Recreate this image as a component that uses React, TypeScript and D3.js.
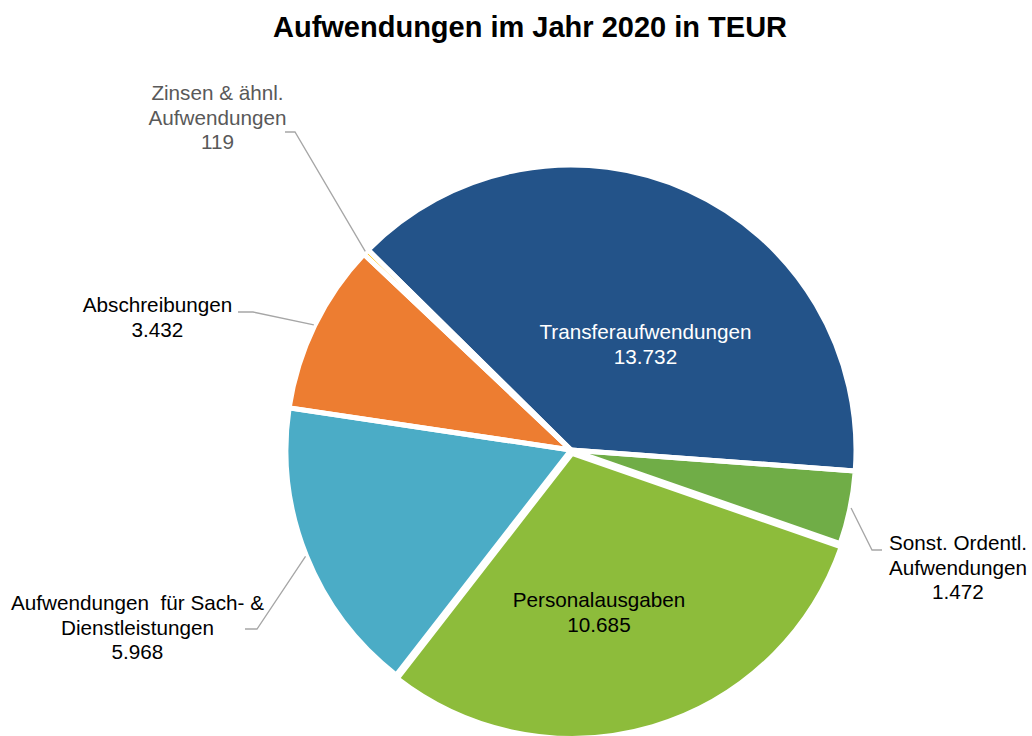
import React from "react";
import * as d3 from "d3";

// ---- data ----
const categories = [
  "Transferaufwendungen",
  "Sonst. Ordentl. Aufwendungen",
  "Personalausgaben",
  "Aufwendungen für Sach- & Dienstleistungen",
  "Abschreibungen",
  "Zinsen & ähnl. Aufwendungen",
];
const values = [13732, 1472, 10685, 5968, 3432, 119];
const labelLines = [
  ["Transferaufwendungen"],
  ["Sonst. Ordentl.", "Aufwendungen"],
  ["Personalausgaben"],
  ["Aufwendungen  für Sach- &", "Dienstleistungen"],
  ["Abschreibungen"],
  ["Zinsen & ähnl.", "Aufwendungen"],
];
const colors = ["#235389", "#70AD47", "#8DBC3B", "#4BACC6", "#ED7D31", "#FFC000"];
const title = "Aufwendungen im Jahr 2020 in TEUR";

// ---- layout ----
const W = 1032;
const H = 736;
const CX = 571;
const CY = 450;
const R = 285;
const START_DEG = -45.4;
const FONT = "'Liberation Sans', Arial, Helvetica, sans-serif";
const LABEL_SIZE = 20.7;
const LINE_H = 24.5;
const explode = [0, 0, 3.5, 0, 0, 0];

type LabelLayout = {
  x: number;
  y: number;
  color: string;
  leader?: [number, number][];
};
const labelLayout: LabelLayout[] = [
  { x: 645.5, y: 332, color: "#ffffff" },
  { x: 958, y: 543, color: "#000000", leader: [[882, 550], [872, 550]] },
  { x: 599, y: 600, color: "#000000" },
  { x: 137.5, y: 603, color: "#000000", leader: [[245, 629], [257, 629]] },
  { x: 157.5, y: 305, color: "#000000", leader: [[238, 312], [253, 312]] },
  { x: 217.5, y: 93, color: "#595959", leader: [[285, 132], [295, 132]] },
];

const de = d3.formatLocale({
  decimal: ",",
  thousands: ".",
  grouping: [3],
  currency: ["", " €"],
});
const fmt = de.format(",d");

export default function App() {
  const pie = d3
    .pie<number>()
    .sort(null)
    .value((d) => d)
    .startAngle((START_DEG * Math.PI) / 180)
    .endAngle((START_DEG * Math.PI) / 180 + 2 * Math.PI);
  const arcs = pie(values);
  const arcGen = d3.arc<d3.PieArcDatum<number>>().innerRadius(0).outerRadius(R);

  const offset = (a: d3.PieArcDatum<number>, i: number) => {
    const mid = (a.startAngle + a.endAngle) / 2;
    return [explode[i] * Math.sin(mid), -explode[i] * Math.cos(mid)];
  };

  return (
    <svg
      width={W}
      height={H}
      viewBox={`0 0 ${W} ${H}`}
      style={{ position: "absolute", left: 0, top: 0, display: "block", background: "#fff" }}
      fontFamily={FONT}
    >
      <rect x={0} y={0} width={W} height={H} fill="#ffffff" />
      <text
        x={530}
        y={37}
        textAnchor="middle"
        fontSize={29}
        fontWeight="bold"
        fill="#000"
      >
        {title}
      </text>
      <g transform={`translate(${CX},${CY})`}>
        {arcs.map((a, i) => {
          const [ox, oy] = offset(a, i);
          return (
            <path
              key={"f" + i}
              transform={`translate(${ox},${oy})`}
              d={arcGen(a) || ""}
              fill={colors[i]}
            />
          );
        })}
        {arcs.map((a, i) => {
          const [ox, oy] = offset(a, i);
          return (
            <path
              key={"s" + i}
              transform={`translate(${ox},${oy})`}
              d={arcGen(a) || ""}
              fill="none"
              stroke="#ffffff"
              strokeWidth={5}
              strokeLinejoin="miter"
            />
          );
        })}
      </g>
      {arcs.map((a, i) => {
        const L = labelLayout[i];
        if (!L.leader) return null;
        const mid = (a.startAngle + a.endAngle) / 2;
        const rr = R + 1;
        const ex = CX + rr * Math.sin(mid);
        const ey = CY - rr * Math.cos(mid);
        const pts: [number, number][] = [...L.leader, [ex, ey]];
        const line = d3.line()(pts) || "";
        return (
          <path
            key={"l" + i}
            d={line}
            fill="none"
            stroke="#A6A6A6"
            strokeWidth={1.3}
          />
        );
      })}
      {arcs.map((a, i) => {
        const L = labelLayout[i];
        const lines = [...labelLines[i], fmt(values[i])];
        return (
          <text
            key={"t" + i}
            fontSize={LABEL_SIZE}
            fill={L.color}
            textAnchor="middle"
            style={{ whiteSpace: "pre" }}
          >
            {lines.map((ln, k) => (
              <tspan key={k} x={L.x} y={L.y + k * LINE_H + 7}>
                {ln}
              </tspan>
            ))}
          </text>
        );
      })}
    </svg>
  );
}
